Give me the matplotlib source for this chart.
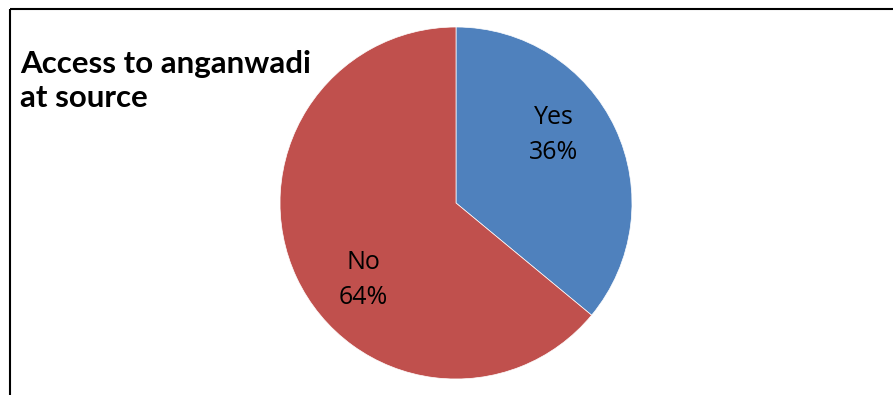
import matplotlib.pyplot as plt

# Anteile der Antworten
categories = ["Yes", "No"]
shares = [36, 64]
colors = ["#4F81BD", "#C0504D"]

W, H = 893, 395
fig = plt.figure(figsize=(W / 100, H / 100), dpi=100)
ax = fig.add_axes([0, 0, 1, 1])

# Kreisdiagramm, im Uhrzeigersinn ab 12 Uhr
wedges, _ = ax.pie(shares, colors=colors, startangle=90, counterclock=False,
                   center=(456, H - 203), radius=176, frame=True,
                   wedgeprops=dict(edgecolor="white", linewidth=0.5))
ax.set_xlim(0, W)
ax.set_ylim(0, H)
ax.set_aspect("equal")
ax.axis("off")

# Beschriftungen mit Prozentwerten
label_pos = [(554, H - 135), (363, H - 280)]
for (x, y), cat, val in zip(label_pos, categories, shares):
    ax.text(x, y, f"{cat}\n{val}%", ha="center", va="center", fontsize=18,
            family="Open Sans", linespacing=1.55, color="black")

# Titel oben links
ax.text(20, H - 50, "Access to anganwadi\nat source", ha="left", va="top",
        fontsize=22.5, fontweight="bold", family="Lato", linespacing=1.25)

# Rahmen (nur oben und links sichtbar)
ax.plot([9.5, 9.5], [0, H - 9], color="black", lw=1.5, solid_capstyle="butt")
ax.plot([9.5, W], [H - 9, H - 9], color="black", lw=1.5, solid_capstyle="butt")

fig.savefig("out.png", dpi=100)
